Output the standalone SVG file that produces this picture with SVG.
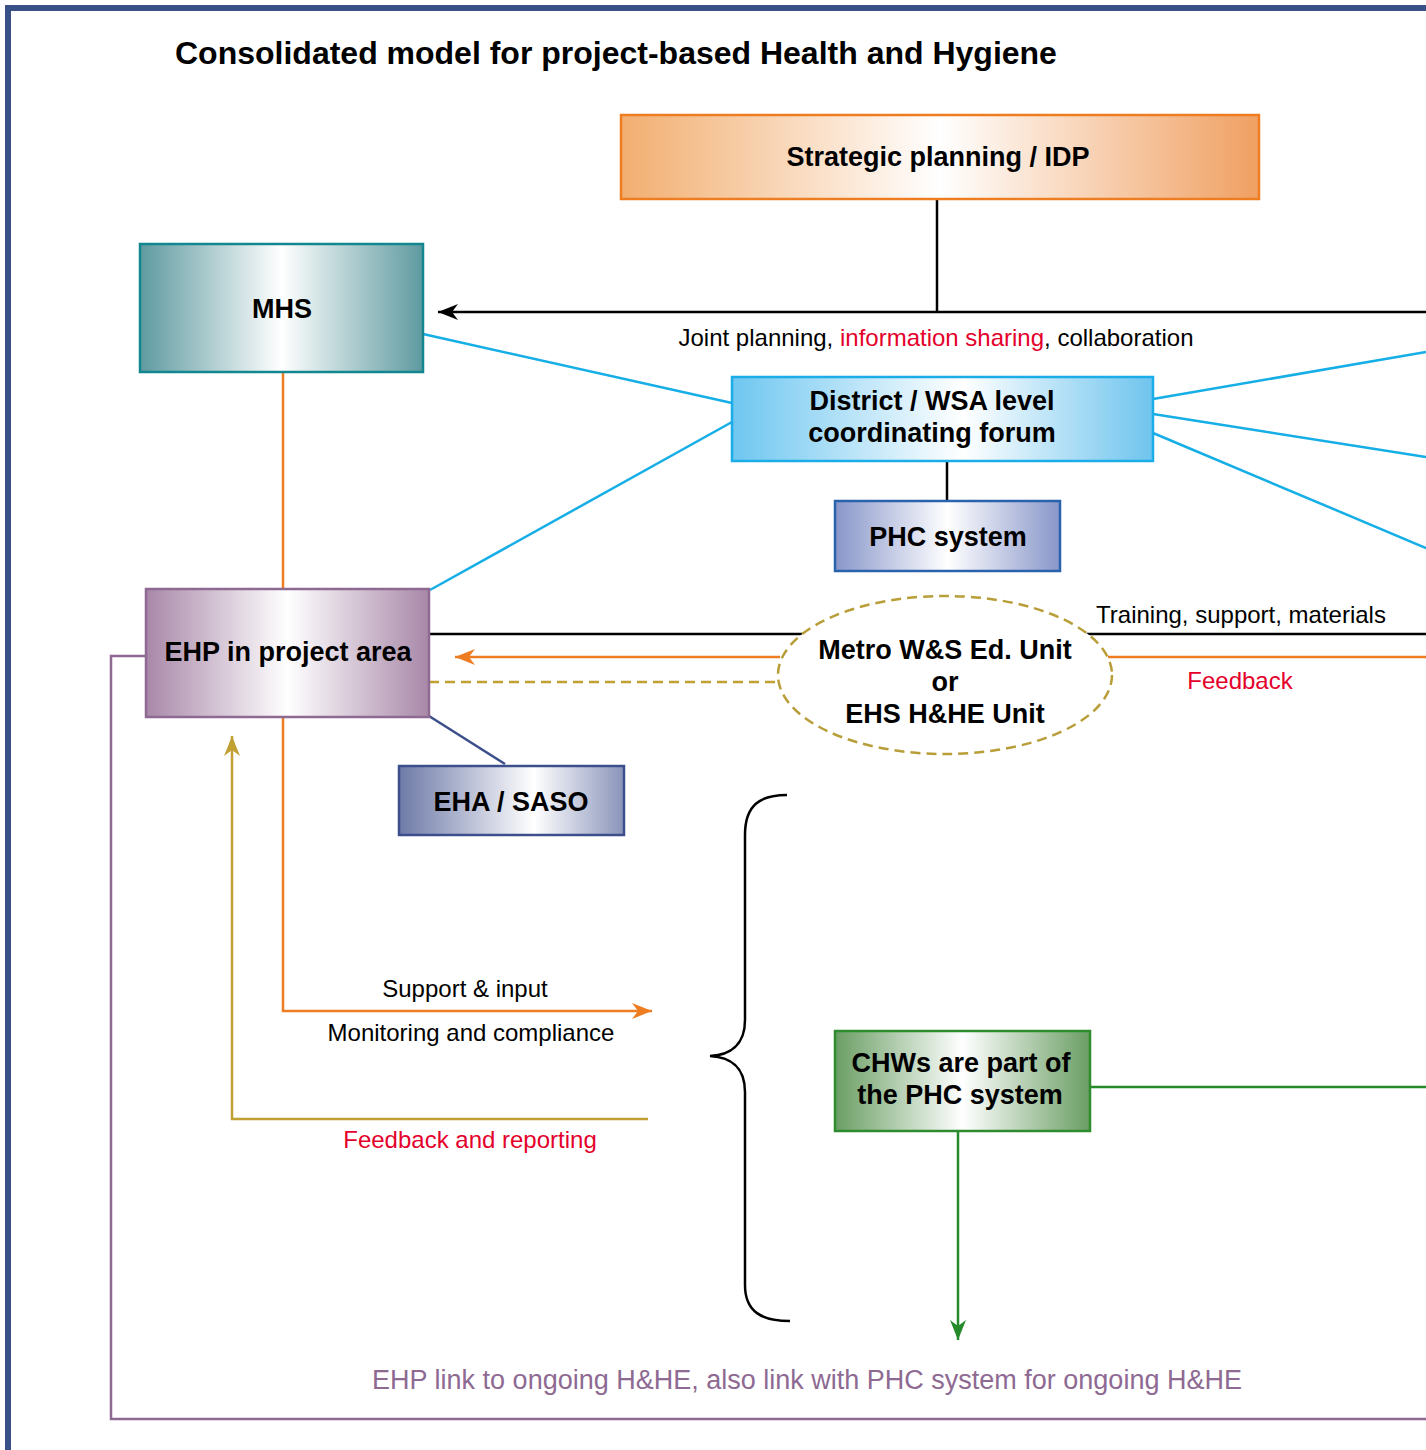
<svg xmlns="http://www.w3.org/2000/svg" width="1426" height="1450" viewBox="0 0 1426 1450">
<style>
text{font-family:"Liberation Sans",Arial,sans-serif}
.nt{font-size:27px;font-weight:bold;fill:#000;text-anchor:middle}
.lb{font-size:24px;fill:#000}
.red{fill:#e4002b}
.c{fill:none;stroke-width:2.5}
</style>
<defs>
<linearGradient id="gO" x1="0" x2="1" y1="0" y2="0"><stop offset="0" stop-color="#f2ae70"/><stop offset="0.5" stop-color="#ffffff"/><stop offset="1" stop-color="#f0a062"/></linearGradient>
<linearGradient id="gT" x1="0" x2="1" y1="0" y2="0"><stop offset="0" stop-color="#5e9aa0"/><stop offset="0.5" stop-color="#ffffff"/><stop offset="1" stop-color="#5e9aa0"/></linearGradient>
<linearGradient id="gB" x1="0" x2="1" y1="0" y2="0"><stop offset="0" stop-color="#6ec6f0"/><stop offset="0.55" stop-color="#ffffff"/><stop offset="1" stop-color="#6ec4ee"/></linearGradient>
<linearGradient id="gP" x1="0" x2="1" y1="0" y2="0"><stop offset="0" stop-color="#8896ca"/><stop offset="0.5" stop-color="#ffffff"/><stop offset="1" stop-color="#8896ca"/></linearGradient>
<linearGradient id="gE" x1="0" x2="1" y1="0" y2="0"><stop offset="0" stop-color="#a888a8"/><stop offset="0.5" stop-color="#ffffff"/><stop offset="1" stop-color="#a888a8"/></linearGradient>
<linearGradient id="gA" x1="0" x2="1" y1="0" y2="0"><stop offset="0" stop-color="#6e7aa8"/><stop offset="0.6" stop-color="#ffffff"/><stop offset="1" stop-color="#8a94ba"/></linearGradient>
<linearGradient id="gG" x1="0" x2="1" y1="0" y2="0"><stop offset="0" stop-color="#6a9e64"/><stop offset="0.5" stop-color="#ffffff"/><stop offset="1" stop-color="#6a9e64"/></linearGradient>
<marker id="aK" markerUnits="userSpaceOnUse" markerWidth="22" markerHeight="16" refX="20" refY="8" orient="auto"><path d="M0,0 L20,8 L0,16 L6,8 z" fill="#000"/></marker>
<marker id="aO" markerUnits="userSpaceOnUse" markerWidth="22" markerHeight="16" refX="20" refY="8" orient="auto"><path d="M0,0 L20,8 L0,16 L6,8 z" fill="#ee7d22"/></marker>
<marker id="aY" markerUnits="userSpaceOnUse" markerWidth="22" markerHeight="16" refX="20" refY="8" orient="auto"><path d="M0,0 L20,8 L0,16 L6,8 z" fill="#c0a032"/></marker>
<marker id="aG" markerUnits="userSpaceOnUse" markerWidth="22" markerHeight="16" refX="20" refY="8" orient="auto"><path d="M0,0 L20,8 L0,16 L6,8 z" fill="#248a2a"/></marker>
</defs>
<rect x="8" y="8" width="1600" height="1600" fill="#fff" stroke="#3a5088" stroke-width="6"/>
<text x="175" y="64" style="font-size:32px;font-weight:bold">Consolidated model for project-based Health and Hygiene</text>

<g id="connectors">
<line class="c" x1="937" y1="199" x2="937" y2="312" stroke="#000"/>
<line class="c" x1="1426" y1="312" x2="438" y2="312" stroke="#000" marker-end="url(#aK)"/>
<line class="c" x1="423" y1="334" x2="732" y2="403" stroke="#16aee6"/>
<line class="c" x1="732" y1="422" x2="430" y2="590" stroke="#16aee6"/>
<line class="c" x1="1153" y1="399" x2="1426" y2="352" stroke="#16aee6"/>
<line class="c" x1="1153" y1="414" x2="1426" y2="457" stroke="#16aee6"/>
<line class="c" x1="1153" y1="433" x2="1426" y2="548" stroke="#16aee6"/>
<line class="c" x1="947" y1="461" x2="947" y2="501" stroke="#000"/>
<line class="c" x1="283" y1="372" x2="283" y2="589" stroke="#ee7d22"/>
<line class="c" x1="429" y1="634" x2="1426" y2="634" stroke="#000"/>
<line class="c" x1="780" y1="657" x2="455" y2="657" stroke="#ee7d22" marker-end="url(#aO)"/>
<line class="c" x1="1108" y1="657" x2="1426" y2="657" stroke="#ee7d22"/>
<line class="c" x1="429" y1="682" x2="780" y2="682" stroke="#c0a032" stroke-dasharray="10,6"/>
<line class="c" x1="429" y1="716" x2="505" y2="764" stroke="#3c4f8c"/>
<polyline class="c" points="283,717 283,1011 652,1011" stroke="#ee7d22" marker-end="url(#aO)"/>
<polyline class="c" points="648,1119 232,1119 232,736" stroke="#c0a032" marker-end="url(#aY)"/>
<polyline class="c" points="146,656 111,656 111,1419 1426,1419" stroke="#8e6a93"/>
<line class="c" x1="1090" y1="1087" x2="1426" y2="1087" stroke="#248a2a"/>
<line class="c" x1="958" y1="1131" x2="958" y2="1340" stroke="#248a2a" marker-end="url(#aG)"/>
<path class="c" d="M787,795 C760,795 745,805 745,835 L745,1020 C745,1045 730,1055 710,1056 C730,1057 745,1067 745,1092 L745,1285 C745,1312 762,1321 790,1321" stroke="#000"/>
</g>

<g id="strategic">
<rect x="621" y="115" width="638" height="84" fill="url(#gO)" stroke="#ee7d22" stroke-width="2.5"/>
<text class="nt" x="938" y="166">Strategic planning / IDP</text>
</g>
<g id="mhs">
<rect x="140" y="244" width="283" height="128" fill="url(#gT)" stroke="#13878f" stroke-width="2.5"/>
<text class="nt" x="282" y="318">MHS</text>
</g>
<g id="forum">
<rect x="732" y="377" width="421" height="84" fill="url(#gB)" stroke="#1aade8" stroke-width="2.5"/>
<text class="nt" x="932" y="410">District / WSA level</text>
<text class="nt" x="932" y="442">coordinating forum</text>
</g>
<g id="phc">
<rect x="835" y="501" width="225" height="70" fill="url(#gP)" stroke="#2b62ac" stroke-width="2.5"/>
<text class="nt" x="948" y="546">PHC system</text>
</g>
<g id="ehp">
<rect x="146" y="589" width="283" height="128" fill="url(#gE)" stroke="#8e6a93" stroke-width="2.5"/>
<text class="nt" x="288" y="661">EHP in project area</text>
</g>
<g id="metro">
<ellipse cx="945" cy="675" rx="167" ry="79" fill="#fff" stroke="#b89e38" stroke-width="2.5" stroke-dasharray="10,6"/>
<text class="nt" x="945" y="659">Metro W&amp;S Ed. Unit</text>
<text class="nt" x="945" y="691">or</text>
<text class="nt" x="945" y="723">EHS H&amp;HE Unit</text>
</g>
<g id="eha">
<rect x="399" y="766" width="225" height="69" fill="url(#gA)" stroke="#3c4f8c" stroke-width="2.5"/>
<text class="nt" x="511" y="811">EHA / SASO</text>
</g>
<g id="chw">
<rect x="835" y="1031" width="255" height="100" fill="url(#gG)" stroke="#2e8b2e" stroke-width="2.5"/>
<text class="nt" x="961" y="1072">CHWs are part of</text>
<text class="nt" x="960" y="1104">the PHC system</text>
</g>

<g id="labels">
<text class="lb" x="936" y="346" text-anchor="middle">Joint planning, <tspan class="red">information sharing</tspan>, collaboration</text>
<text class="lb" x="1241" y="623" text-anchor="middle">Training, support, materials</text>
<text class="lb red" x="1240" y="689" text-anchor="middle">Feedback</text>
<text class="lb" x="465" y="997" text-anchor="middle">Support &amp; input</text>
<text class="lb" x="471" y="1041" text-anchor="middle">Monitoring and compliance</text>
<text class="lb red" x="470" y="1148" text-anchor="middle">Feedback and reporting</text>
<text x="807" y="1389" text-anchor="middle" style="font-size:27px;fill:#8e6a93">EHP link to ongoing H&amp;HE, also link with PHC system for ongoing H&amp;HE</text>
</g>
</svg>
